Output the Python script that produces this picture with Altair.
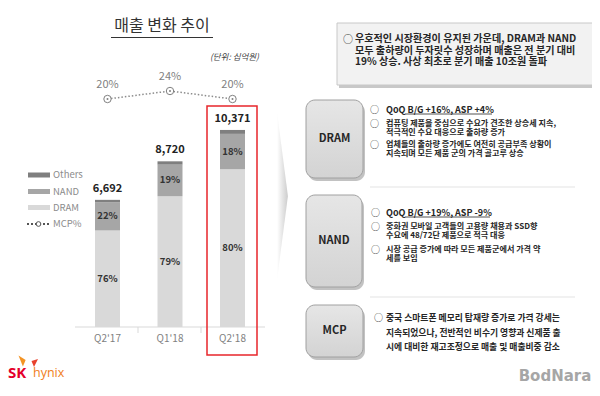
import altair as alt
import pandas as pd

# ---------------- data ----------------
quarters = ["Q2'17", "Q1'18", "Q2'18"]
totals = [6692, 8720, 10371]
dram_pct = [76, 79, 80]
nand_pct = [22, 19, 18]
others_pct = [2, 2, 2]
mcp_pct = [20, 24, 20]
series = ["DRAM", "NAND", "Others"]
series_colors = ["#d9d9d9", "#a6a6a6", "#7f7f7f"]
legend_names = ["Others", "NAND", "DRAM", "MCP%"]

title_text = "매출 변화 추이"
unit_text = "(단위: 십억원)"
summary_lines = [
    "우호적인 시장환경이 유지된 가운데, DRAM과 NAND",
    "모두 출하량이 두자릿수 성장하며 매출은 전 분기 대비",
    "19% 상승. 사상 최초로 분기 매출 10조원 돌파",
]
dram_lines = [
    "QoQ B/G +16%, ASP +4%",
    "컴퓨팅 제품을 중심으로 수요가 견조한 상승세 지속,",
    "적극적인 수요 대응으로 출하량 증가",
    "업체들의 출하량 증가에도 여전히 공급부족 상황이",
    "지속되며 모든 제품 군의 가격 골고루 상승",
]
nand_lines = [
    "QoQ B/G +19%, ASP -9%",
    "중화권 모바일 고객들의 고용량 채용과 SSD향",
    "수요에 48/72단 제품으로 적극 대응",
    "시장 공급 증가에 따라 모든 제품군에서 가격 약",
    "세를 보임",
]
mcp_lines = [
    "중국 스마트폰 메모리 탑재량 증가로 가격 강세는",
    "지속되었으나, 전반적인 비수기 영향과 신제품 출",
    "시에 대비한 재고조정으로 매출 및 매출비중 감소",
]

# ---------------- tables ----------------
rows = []
for i, q in enumerate(quarters):
    base = 0.0
    for s, pcts in zip(series, [dram_pct, nand_pct, others_pct]):
        v = totals[i] * pcts[i] / 100.0
        rows.append(dict(quarter=q, series=s, lo=base, hi=base + v,
                         mid=base + v / 2, label=f"{pcts[i]}%"))
        base += v
seg = pd.DataFrame(rows)
tot = pd.DataFrame(dict(quarter=quarters, total=totals,
                        label=[f"{t:,}" for t in totals]))
mcp = pd.DataFrame(dict(quarter=quarters, mcp=mcp_pct,
                        label=[f"{m}%" for m in mcp_pct]))

FONT = "Noto Sans CJK KR"
OX = 8
OY = 8


def px(v):
    return v - OX


def py(v):
    return v - OY


one = pd.DataFrame({"d": [0]})


def label(x, y, text, **kw):
    kw.setdefault("font", FONT)
    kw.setdefault("baseline", "middle")
    return alt.Chart(one).mark_text(text=text, **kw).encode(
        x=alt.value(px(x)), y=alt.value(py(y)))


def box(x1, y1, x2, y2, **kw):
    return alt.Chart(one).mark_rect(**kw).encode(
        x=alt.value(px(x1)), x2=alt.value(px(x2)),
        y=alt.value(py(y1)), y2=alt.value(py(y2)))


def hline(x1, x2, y, **kw):
    return alt.Chart(one).mark_rule(**kw).encode(
        x=alt.value(px(x1)), x2=alt.value(px(x2)), y=alt.value(py(y)))


def vline(x, y1, y2, **kw):
    return alt.Chart(one).mark_rule(**kw).encode(
        x=alt.value(px(x)), y=alt.value(py(y1)), y2=alt.value(py(y2)))


xscale = alt.Scale(domain=quarters, range=[px(75), px(265)],
                   paddingInner=0.6, paddingOuter=0.32)
yscale = alt.Scale(domain=[0, 11000], range=[py(327), py(327 - 11000 * 0.019)])
mscale = alt.Scale(domain=[0, 30], range=[py(139), py(79)])
X = alt.X("quarter:N", scale=xscale, axis=None)

layers = []

# ---- left: title ----
layers.append(label(162, 26, title_text, fontSize=16, color="#333333"))
layers.append(hline(111, 213, 37.5, color="#333333", strokeWidth=1))
layers.append(label(259, 57, unit_text, align="right", fontSize=8.5,
                    fontStyle="italic", color="#404040"))

# ---- axis line & separators ----
layers.append(hline(75, 265, 327, color="#d9d9d9", strokeWidth=1))
for xv in [138, 201]:
    layers.append(vline(xv, 327, 333, color="#d9d9d9", strokeWidth=1))

# ---- bars ----
bars = alt.Chart(seg).mark_bar().encode(
    x=X,
    y=alt.Y("lo:Q", scale=yscale, axis=None),
    y2="hi:Q",
    color=alt.Color("series:N", scale=alt.Scale(domain=series, range=series_colors),
                    legend=None),
)
layers.append(bars)

seg_text = alt.Chart(seg).transform_filter(alt.datum.series != "Others").mark_text(
    font=FONT, fontSize=9.5, fontWeight="bold", color="#333333", baseline="middle"
).encode(x=X, y=alt.Y("mid:Q", scale=yscale, axis=None), text="label:N")
layers.append(seg_text)

tot_text = alt.Chart(tot).mark_text(
    font=FONT, fontSize=11, fontWeight="bold", color="#222222", baseline="middle", dy=-11
).encode(x=X, y=alt.Y("total:Q", scale=yscale, axis=None), text="label:N")
layers.append(tot_text)

# x labels
xlab = alt.Chart(tot).mark_text(
    font=FONT, fontSize=10, color="#7f7f7f", baseline="middle"
).encode(x=X, y=alt.value(py(339)), text="quarter:N")
layers.append(xlab)

# ---- MCP% line ----
mline = alt.Chart(mcp).mark_line(strokeDash=[1.5, 2], color="#8c8c8c", strokeWidth=1.5).encode(
    x=X, y=alt.Y("mcp:Q", scale=mscale, axis=None))
mpt = alt.Chart(mcp).mark_point(shape="circle", size=55, filled=True, fill="white",
                                stroke="#7f7f7f", strokeWidth=1, opacity=1).encode(
    x=X, y=alt.Y("mcp:Q", scale=mscale, axis=None))
mdot = alt.Chart(mcp).mark_point(shape="circle", size=4, filled=True, color="#7f7f7f",
                                 opacity=1).encode(
    x=X, y=alt.Y("mcp:Q", scale=mscale, axis=None))
mtext = alt.Chart(mcp).mark_text(font=FONT, fontSize=11, color="#7f7f7f",
                                 baseline="middle", dy=-14).encode(
    x=X, y=alt.Y("mcp:Q", scale=mscale, axis=None), text="label:N")
layers += [mline, mpt, mdot, mtext]

# ---- legend ----
leg_y = [175, 191.5, 207.5, 224]
leg_col = {"Others": series_colors[2], "NAND": series_colors[1], "DRAM": series_colors[0]}
for name, yv in zip(legend_names, leg_y):
    if name in leg_col:
        layers.append(box(28, yv - 2.5, 50, yv + 2.5, color=leg_col[name]))
    else:
        layers.append(hline(27, 50, yv, color="#555555", strokeWidth=2, strokeDash=[2, 2]))
        layers.append(alt.Chart(one).mark_point(shape="circle", size=22, filled=True,
                                                fill="white", stroke="#555555",
                                                strokeWidth=1, opacity=1).encode(
            x=alt.value(px(38.5)), y=alt.value(py(yv))))
    layers.append(label(53, yv, name, align="left", fontSize=9.5, color="#8c8c8c"))

# ---- red highlight ----
layers.append(box(207, 106, 257, 355, fillOpacity=0, stroke="#e8262b", strokeWidth=1.5))

# ---- arrow ----
arrow_grad = alt.Gradient(gradient="linear", x1=0, x2=1, y1=0, y2=0,
                          stops=[alt.GradientStop(color="#ffffff", offset=0),
                                 alt.GradientStop(color="#cccccc", offset=1)])
layers.append(alt.Chart(one).mark_point(shape="M0,-1L0.13,0L0,1Z", size=28224,
                                        filled=True, fill=arrow_grad, opacity=1,
                                        strokeWidth=0).encode(
    x=alt.value(px(277)), y=alt.value(py(196))))

# ---- top summary box ----
layers.append(box(339, 25, 603, 88, color="#b0b0b0", opacity=0.7))
layers.append(box(337, 23, 601, 85, fill="#f2f2f2", stroke="#c8c8c8", strokeWidth=1))
layers.append(label(348, 39.5, "○", fontSize=10, color="#333333"))
for yv, t in zip([39.3, 50.7, 61.9], summary_lines):
    layers.append(label(355, yv, t, align="left", fontSize=10.1, fontWeight="bold",
                        color="#262626"))

# ---- section boxes ----
box_grad = alt.Gradient(gradient="linear", x1=0, x2=0, y1=0, y2=1,
                        stops=[alt.GradientStop(color="#e6e6e6", offset=0),
                               alt.GradientStop(color="#d3d3d3", offset=1)])
sections = [("DRAM", 306, 100, 363, 178), ("NAND", 306, 195, 362, 287),
            ("MCP", 306, 305, 363, 357)]
for name, x1, y1, x2, y2 in sections:
    layers.append(box(x1 + 2, y1 + 3, x2 + 2, y2 + 3, color="#9a9a9a", opacity=0.6,
                      cornerRadius=9))
    layers.append(box(x1, y1, x2, y2, fill=box_grad, stroke="#a0a0a0", strokeWidth=1,
                      cornerRadius=9))
    layers.append(label((x1 + x2) / 2, (y1 + y2) / 2, name, fontSize=11,
                        fontWeight="bold", color="#262626"))

layers.append(hline(370, 575, 187, color="#e3e3e3", strokeWidth=1))
layers.append(hline(370, 575, 297, color="#e3e3e3", strokeWidth=1))

TX = 386


def bullet_block(lines, ys, bullets, bx, size, first_size):
    out = []
    for i, (t, yv) in enumerate(zip(lines, ys)):
        if i in bullets:
            out.append(label(bx, yv, "○", fontSize=9, color="#333333"))
        out.append(label(TX, yv, t, align="left",
                         fontSize=first_size if i == 0 else size,
                         fontWeight="bold", color="#262626"))
    return out


layers += bullet_block(dram_lines, [109.5, 123.8, 133.2, 145.2, 154.4], {0, 1, 3}, 374.5, 8.1, 9)
layers.append(hline(405, 492, 114, color="#262626", strokeWidth=0.8))
layers += bullet_block(nand_lines, [212.7, 226.5, 235.7, 250, 259.2], {0, 1, 3}, 375.5, 8.1, 9)
layers.append(hline(405, 490, 217, color="#262626", strokeWidth=0.8))
layers += bullet_block(mcp_lines, [318.3, 333.3, 347.3], {0}, 378.5, 8.8, 8.8)

# ---- logos ----
layers.append(alt.Chart(one).mark_point(shape="M-1,-1L0.3,-0.2L-0.2,1Z", size=120,
                                        filled=True, color="#f39323", opacity=1).encode(
    x=alt.value(px(24)), y=alt.value(py(361))))
layers.append(alt.Chart(one).mark_point(shape="M1,-0.6L-0.3,-0.2L0.2,1Z", size=100,
                                        filled=True, color="#e8412c", opacity=1).encode(
    x=alt.value(px(33)), y=alt.value(py(362))))
layers.append(label(8, 373, "SK", align="left", fontSize=15, fontWeight="bold",
                    color="#e4002b", font="Open Sans"))
layers.append(label(33, 373, "hynix", align="left", fontSize=12.5, color="#f07d1a",
                    font="Open Sans"))
layers.append(label(555, 376, "BodNara", fontSize=15, fontWeight="bold",
                    color="#a6a6a6", font="DejaVu Sans"))

chart = alt.layer(*layers).resolve_scale(y="independent").properties(
    width=584, height=380, autosize=alt.AutoSizeParams(type="none"), padding=0,
    background="white",
).configure_view(strokeWidth=0)

chart.save("out.html", embed_options={"renderer": "svg", "actions": False})
